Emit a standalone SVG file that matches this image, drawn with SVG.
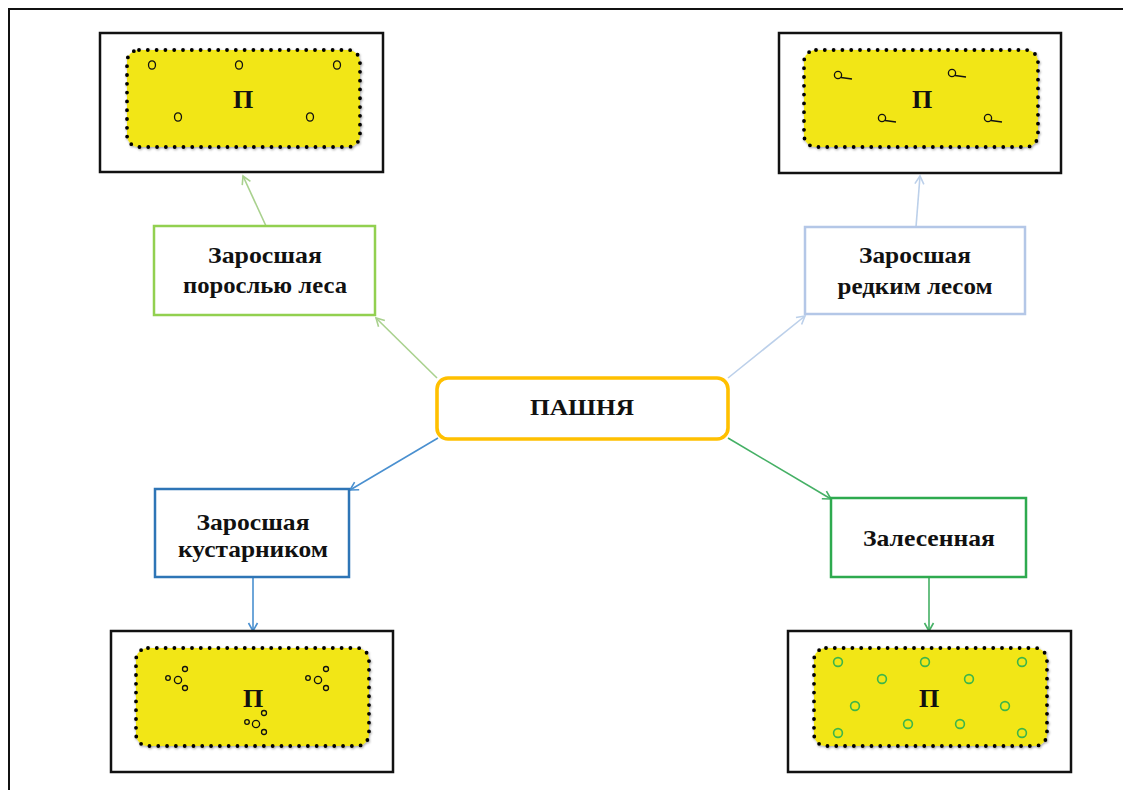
<svg xmlns="http://www.w3.org/2000/svg" width="1123" height="790" viewBox="0 0 1123 790">
  <defs>
    <style>
      .frame { fill: none; stroke: #111; stroke-width: 2; }
      .plot-frame { fill: #fff; stroke: #111; stroke-width: 2.5; }
      .field { fill: #F2E614; stroke: #000; stroke-width: 3.8; stroke-dasharray: 0 8.8; stroke-linecap: round; filter: url(#soft); }
      .field-letter { font-family: "Liberation Serif", "Times New Roman", serif; font-weight: bold; font-size: 26px; fill: #111; text-anchor: middle; }
      .label { font-family: "Liberation Serif", "Times New Roman", serif; font-weight: bold; font-size: 24px; fill: #111; text-anchor: middle; }
      .box { fill: #fff; stroke-width: 2.5; }
      .mark { fill: none; stroke: #111; stroke-width: 1.3; }
      .tree { fill: none; stroke: #3DB54A; stroke-width: 1.6; }
      .link { fill: none; stroke-width: 1.6; }
    </style>
    <filter id="soft" x="-5%" y="-5%" width="110%" height="115%">
      <feDropShadow dx="0.8" dy="1.2" stdDeviation="1" flood-color="#000" flood-opacity="0.35"/>
    </filter>
    <marker id="ah-lgreen" markerUnits="userSpaceOnUse" markerWidth="12" markerHeight="12" refX="10" refY="6" orient="auto">
      <path d="M2,1.5 L10,6 L2,10.5" fill="none" stroke="#A9D18E" stroke-width="1.6"/>
    </marker>
    <marker id="ah-lblue" markerUnits="userSpaceOnUse" markerWidth="12" markerHeight="12" refX="10" refY="6" orient="auto">
      <path d="M2,1.5 L10,6 L2,10.5" fill="none" stroke="#BCD0EA" stroke-width="1.6"/>
    </marker>
    <marker id="ah-blue" markerUnits="userSpaceOnUse" markerWidth="12" markerHeight="12" refX="10" refY="6" orient="auto">
      <path d="M2,1.5 L10,6 L2,10.5" fill="none" stroke="#4A90D0" stroke-width="1.6"/>
    </marker>
    <marker id="ah-green" markerUnits="userSpaceOnUse" markerWidth="12" markerHeight="12" refX="10" refY="6" orient="auto">
      <path d="M2,1.5 L10,6 L2,10.5" fill="none" stroke="#45B065" stroke-width="1.6"/>
    </marker>
  </defs>

  <rect width="1123" height="790" fill="#fff"/>
  <!-- page frame: top and left edges -->
  <path class="frame" d="M9,800 V9 H1130"/>

  <!-- connectors -->
  <g id="connectors">
    <line class="link" stroke="#A9D18E" x1="437" y1="378" x2="376" y2="318" marker-end="url(#ah-lgreen)"/>
    <line class="link" stroke="#A9D18E" x1="266" y1="226" x2="243" y2="176" marker-end="url(#ah-lgreen)"/>
    <line class="link" stroke="#BCD0EA" x1="728" y1="378" x2="805" y2="316" marker-end="url(#ah-lblue)"/>
    <line class="link" stroke="#BCD0EA" x1="916" y1="227" x2="920" y2="176" marker-end="url(#ah-lblue)"/>
    <line class="link" stroke="#4A90D0" x1="438" y1="438" x2="350" y2="490" marker-end="url(#ah-blue)"/>
    <line class="link" stroke="#4A90D0" x1="253" y1="577" x2="253" y2="631" marker-end="url(#ah-blue)"/>
    <line class="link" stroke="#45B065" x1="728" y1="438" x2="831" y2="499" marker-end="url(#ah-green)"/>
    <line class="link" stroke="#45B065" x1="929" y1="577" x2="929" y2="631" marker-end="url(#ah-green)"/>
  </g>

  <!-- central node -->
  <g id="arable">
    <rect x="437" y="378" width="291" height="61" rx="11" fill="#fff" stroke="#FFC000" stroke-width="3.6"/>
    <text class="label" x="582" y="415" textLength="104" lengthAdjust="spacingAndGlyphs">ПАШНЯ</text>
  </g>

  <!-- category nodes -->
  <g id="overgrown-young-forest">
    <rect class="box" x="154" y="226" width="221" height="89" stroke="#92D050"/>
    <text class="label" x="265" y="263" textLength="114" lengthAdjust="spacingAndGlyphs">Заросшая</text>
    <text class="label" x="265" y="293" textLength="164" lengthAdjust="spacingAndGlyphs">порослью леса</text>
  </g>
  <g id="overgrown-sparse-forest">
    <rect class="box" x="805" y="227" width="220" height="87" stroke="#B4C7E7"/>
    <text class="label" x="915" y="263" textLength="112" lengthAdjust="spacingAndGlyphs">Заросшая</text>
    <text class="label" x="915" y="294" textLength="155" lengthAdjust="spacingAndGlyphs">редким лесом</text>
  </g>
  <g id="overgrown-shrubs">
    <rect class="box" x="155" y="489" width="194" height="88" stroke="#2E75B6"/>
    <text class="label" x="253" y="530" textLength="113" lengthAdjust="spacingAndGlyphs">Заросшая</text>
    <text class="label" x="253" y="557" textLength="150" lengthAdjust="spacingAndGlyphs">кустарником</text>
  </g>
  <g id="forested">
    <rect class="box" x="831" y="498" width="195" height="79" stroke="#2EAA4F"/>
    <text class="label" x="929" y="546" textLength="132" lengthAdjust="spacingAndGlyphs">Залесенная</text>
  </g>

  <!-- plot: young forest growth -->
  <g id="plot-young-forest">
    <rect class="plot-frame" x="100" y="33" width="283" height="139"/>
    <rect class="field" x="127" y="50" width="233" height="97" rx="12"/>
    <text class="field-letter" x="243" y="108">П</text>
    <ellipse class="mark" cx="152" cy="65" rx="3.5" ry="4.2"/>
    <ellipse class="mark" cx="239" cy="65" rx="3.5" ry="4.2"/>
    <ellipse class="mark" cx="337" cy="65" rx="3.5" ry="4.2"/>
    <ellipse class="mark" cx="178" cy="117" rx="3.5" ry="4.2"/>
    <ellipse class="mark" cx="310" cy="117" rx="3.5" ry="4.2"/>
  </g>

  <!-- plot: sparse forest -->
  <g id="plot-sparse-forest">
    <rect class="plot-frame" x="779" y="33" width="282" height="140"/>
    <rect class="field" x="804" y="50" width="234" height="97" rx="12"/>
    <text class="field-letter" x="922" y="108">П</text>
    <g class="mark">
      <circle cx="838" cy="75" r="3.6"/><path d="M841,77.5 L852,79"/>
      <circle cx="952" cy="73" r="3.6"/><path d="M955,75.5 L966,77"/>
      <circle cx="882" cy="118" r="3.6"/><path d="M885,120.5 L896,122"/>
      <circle cx="988" cy="118" r="3.6"/><path d="M991,120.5 L1002,122"/>
    </g>
  </g>

  <!-- plot: shrubs -->
  <g id="plot-shrubs">
    <rect class="plot-frame" x="111" y="631" width="282" height="141"/>
    <rect class="field" x="136" y="648" width="233" height="98" rx="12"/>
    <text class="field-letter" x="253" y="707">П</text>
    <g class="mark">
      <circle cx="168" cy="678" r="2.3"/><circle cx="178" cy="680" r="3.6"/><circle cx="185" cy="669" r="2.5"/><circle cx="185" cy="688" r="2.5"/>
      <circle cx="308" cy="678" r="2.3"/><circle cx="318" cy="680" r="3.6"/><circle cx="326" cy="669" r="2.5"/><circle cx="326" cy="688" r="2.5"/>
      <circle cx="247" cy="722" r="2.3"/><circle cx="256" cy="724" r="3.6"/><circle cx="264" cy="713" r="2.5"/><circle cx="264" cy="732" r="2.5"/>
    </g>
  </g>

  <!-- plot: forested -->
  <g id="plot-forested">
    <rect class="plot-frame" x="788" y="631" width="283" height="141"/>
    <rect class="field" x="814" y="648" width="233" height="98" rx="12"/>
    <text class="field-letter" x="929" y="707">П</text>
    <g class="tree">
      <circle cx="838" cy="662" r="4.4"/>
      <circle cx="925" cy="662" r="4.4"/>
      <circle cx="1022" cy="662" r="4.4"/>
      <circle cx="882" cy="679" r="4.4"/>
      <circle cx="969" cy="679" r="4.4"/>
      <circle cx="855" cy="706" r="4.4"/>
      <circle cx="1005" cy="706" r="4.4"/>
      <circle cx="908" cy="724" r="4.4"/>
      <circle cx="960" cy="724" r="4.4"/>
      <circle cx="838" cy="733" r="4.4"/>
      <circle cx="1022" cy="733" r="4.4"/>
    </g>
  </g>
</svg>
